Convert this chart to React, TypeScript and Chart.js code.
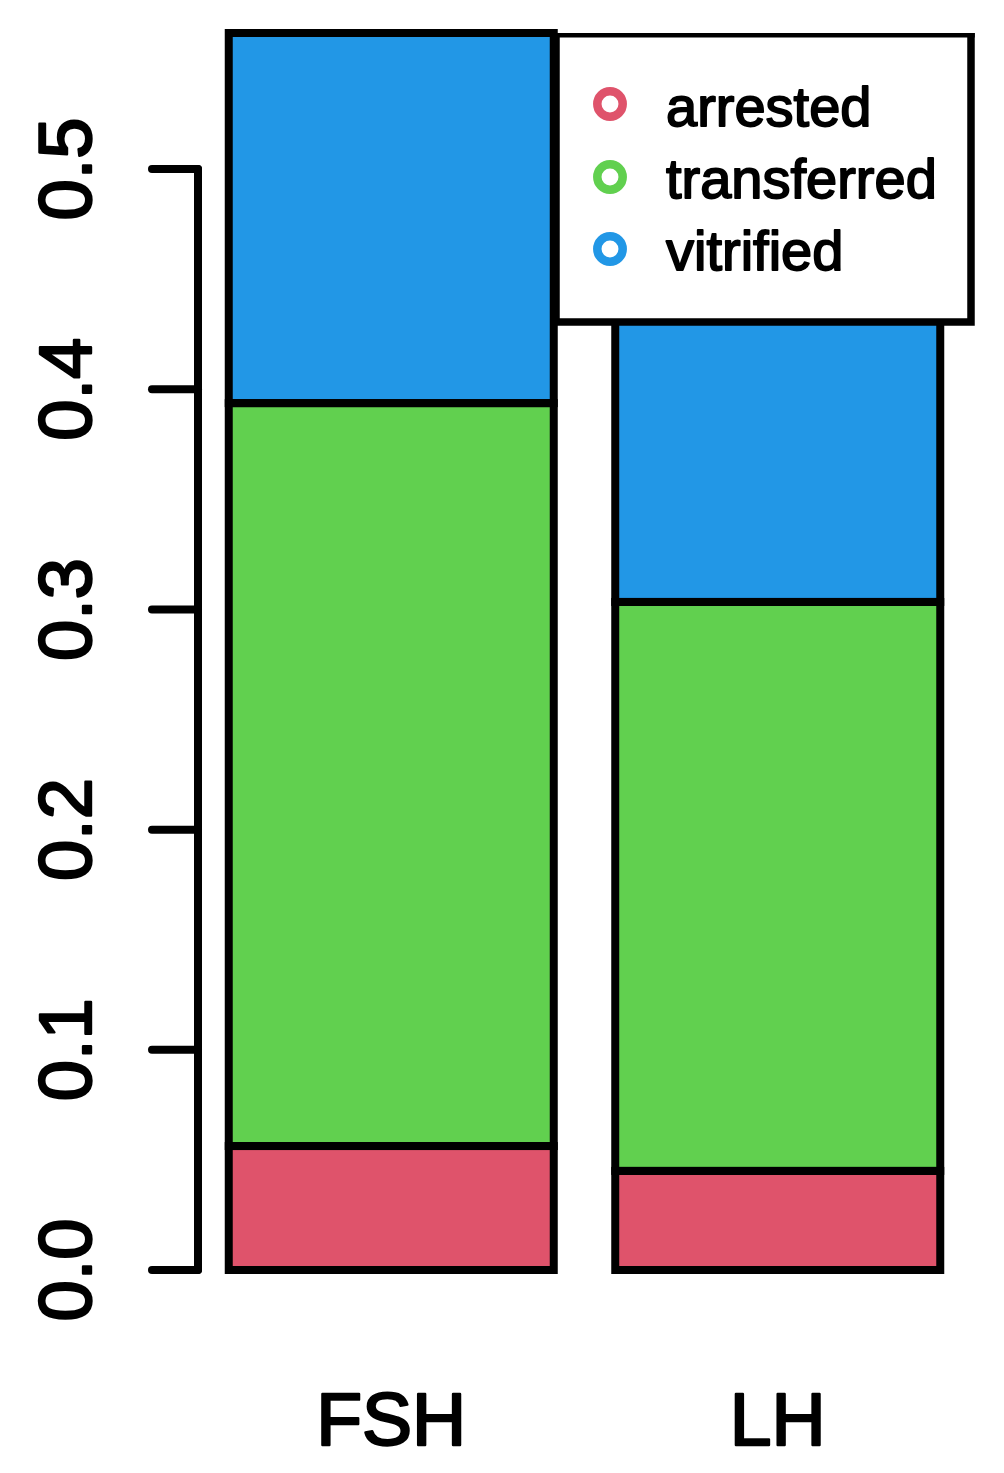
import React, { useEffect, useRef } from "react";
import { Chart, registerables } from "chart.js";

Chart.register(...registerables);

const categories = ["FSH", "LH"];
const seriesNames = ["arrested", "transferred", "vitrified"];
const arrested = [0.0563, 0.045];
const transferred = [0.3374, 0.2584];
const vitrified = [0.1681, 0.1966];
const seriesColors = ["#DF536B", "#61D04F", "#2297E6"];
const yTicks = [0, 0.1, 0.2, 0.3, 0.4, 0.5];
const yTickLabels = ["0.0", "0.1", "0.2", "0.3", "0.4", "0.5"];
const yMax = 0.5618;

const FONT = '"Liberation Sans", Arial, Helvetica, sans-serif';

function heavyText(ctx: CanvasRenderingContext2D, text: string, x: number, y: number, w: number) {
  ctx.lineWidth = w;
  ctx.lineJoin = "round";
  ctx.strokeStyle = "#000";
  ctx.strokeText(text, x, y);
  ctx.fillText(text, x, y);
}

const rStylePlugin = {
  id: "rStyle",
  afterDatasetsDraw(chart: any) {
    const ctx = chart.ctx;
    ctx.save();
    ctx.strokeStyle = "#000";
    ctx.lineWidth = 8;
    ctx.lineJoin = "miter";
    chart.data.datasets.forEach((_ds: any, i: number) => {
      const meta = chart.getDatasetMeta(i);
      meta.data.forEach((el: any) => {
        const { x, y, base, width } = el.getProps(["x", "y", "base", "width"], true);
        ctx.strokeRect(x - width / 2, Math.min(y, base), width, Math.abs(base - y));
      });
    });
    ctx.restore();
  },
  afterDraw(chart: any) {
    const ctx = chart.ctx;
    const ys = chart.scales.y;
    const xs = chart.scales.x;
    const axisX = ys.right;
    ctx.save();
    // y axis line and ticks
    ctx.strokeStyle = "#000";
    ctx.lineWidth = 8;
    ctx.lineCap = "round";
    ctx.beginPath();
    ctx.moveTo(axisX, ys.getPixelForValue(yTicks[0]));
    ctx.lineTo(axisX, ys.getPixelForValue(yTicks[yTicks.length - 1]));
    ctx.stroke();
    yTicks.forEach((v) => {
      const py = ys.getPixelForValue(v);
      ctx.beginPath();
      ctx.moveTo(axisX - 46, py);
      ctx.lineTo(axisX, py);
      ctx.stroke();
    });
    // y tick labels (rotated)
    ctx.fillStyle = "#000";
    ctx.font = `74px ${FONT}`;
    ctx.textAlign = "center";
    ctx.textBaseline = "alphabetic";
    yTicks.forEach((v, i) => {
      const py = ys.getPixelForValue(v);
      ctx.save();
      ctx.translate(91, py);
      ctx.rotate(-Math.PI / 2);
      heavyText(ctx, yTickLabels[i], 0, 0, 2.4);
      ctx.restore();
    });
    // x labels
    ctx.font = `75px ${FONT}`;
    ctx.textAlign = "center";
    categories.forEach((c, i) => {
      heavyText(ctx, c, xs.getPixelForTick(i), 1445, 2.4);
    });
    // legend
    const lx0 = 556;
    const lx1 = chart.chartArea.right;
    const ly0 = chart.chartArea.top;
    const ly1 = 322;
    ctx.fillStyle = "#fff";
    ctx.fillRect(lx0, ly0, lx1 - lx0, ly1 - ly0);
    ctx.lineCap = "butt";
    ctx.strokeStyle = "#000";
    ctx.lineWidth = 7.5;
    ctx.beginPath();
    ctx.moveTo(lx0 - 3.75, ly1);
    ctx.lineTo(lx1 + 3.75, ly1);
    ctx.moveTo(lx0, ly0);
    ctx.lineTo(lx0, ly1);
    ctx.moveTo(lx1, ly0);
    ctx.lineTo(lx1, ly1);
    ctx.stroke();
    ctx.lineWidth = 4.5;
    ctx.beginPath();
    ctx.moveTo(lx0 - 3.75, ly0 + 2.2);
    ctx.lineTo(lx1 + 3.75, ly0 + 2.2);
    ctx.stroke();
    const rowY = [104, 177, 249];
    const baseY = [126, 198, 270];
    seriesNames.forEach((name, i) => {
      ctx.strokeStyle = seriesColors[i];
      ctx.lineWidth = 8.5;
      ctx.beginPath();
      ctx.arc(610, rowY[i], 12.7, 0, Math.PI * 2);
      ctx.stroke();
      ctx.fillStyle = "#000";
      ctx.font = `56px ${FONT}`;
      ctx.textAlign = "left";
      heavyText(ctx, name, 666, baseY[i], 1.8);
    });
    ctx.restore();
  },
};

export default function App() {
  const canvasRef = useRef<HTMLCanvasElement | null>(null);

  useEffect(() => {
    const canvas = canvasRef.current;
    if (!canvas) return;
    const seriesData = [arrested, transferred, vitrified];
    const chart = new Chart(canvas, {
      type: "bar",
      data: {
        labels: categories,
        datasets: seriesNames.map((name, i) => ({
          label: name,
          data: seriesData[i],
          backgroundColor: seriesColors[i],
          borderWidth: 0,
          barThickness: 325,
          stack: "s",
        })),
      },
      options: {
        responsive: false,
        animation: false,
        devicePixelRatio: 1,
        layout: { padding: { top: 33, right: 33, left: 0, bottom: 0 } },
        plugins: {
          legend: { display: false },
          tooltip: { enabled: false },
          title: { display: false },
        },
        scales: {
          x: {
            stacked: true,
            grid: { display: false, drawTicks: false },
            border: { display: false },
            ticks: { display: false },
            afterFit: (s: any) => {
              s.height = 203;
            },
          },
          y: {
            stacked: true,
            min: 0,
            max: yMax,
            grid: { display: false, drawTicks: false },
            border: { display: false },
            ticks: { display: false },
            afterFit: (s: any) => {
              s.width = 198;
            },
          },
        },
      },
      plugins: [rStylePlugin],
    } as any);
    return () => chart.destroy();
  }, []);

  return (
    <div style={{ position: "absolute", left: 0, top: 0, width: 1004, height: 1473, background: "#fff" }}>
      <canvas ref={canvasRef} width={1004} height={1473} style={{ display: "block" }} />
    </div>
  );
}
